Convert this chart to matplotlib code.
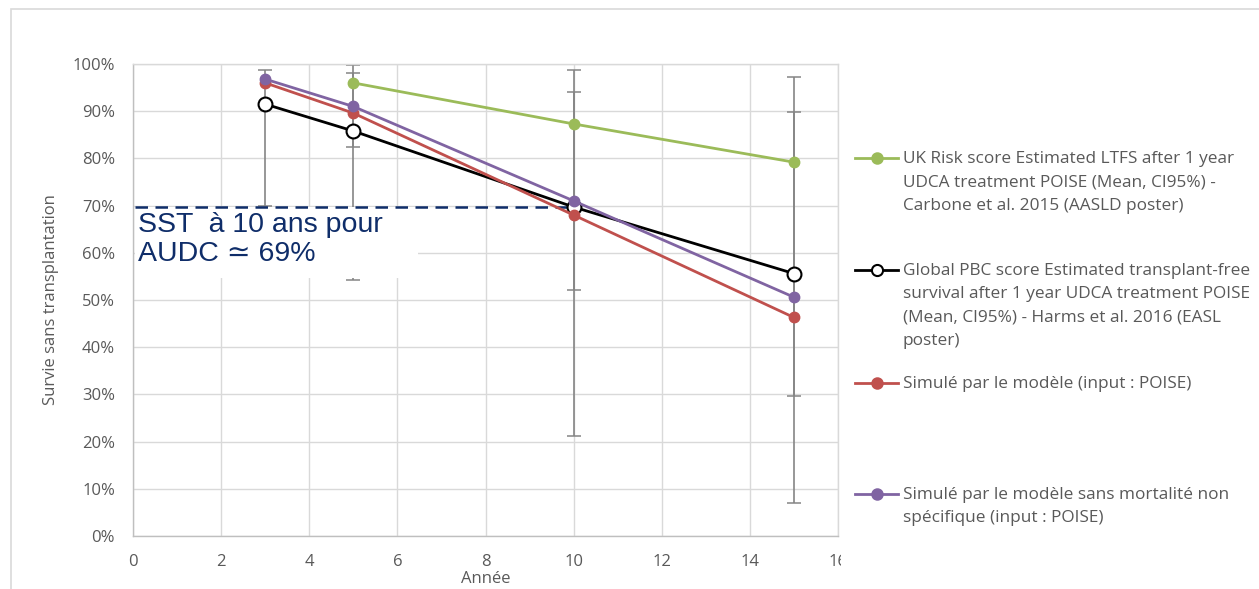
import matplotlib
matplotlib.use("Agg")
import matplotlib.pyplot as plt
from matplotlib.lines import Line2D
from matplotlib.patches import Rectangle
from matplotlib.ticker import FuncFormatter

# data (survival in %)
uk_years = [5, 10, 15]
uk_mean = [96.0, 87.3, 79.2]
uk_low = [82.4, 52.1, 29.7]
uk_high = [98.1, 94.1, 89.8]

pbc_years = [3, 5, 10, 15]
pbc_mean = [91.5, 85.8, 69.7, 55.6]
pbc_low = [70.0, 54.2, 21.2, 7.0]
pbc_high = [98.7, 99.8, 98.7, 97.2]

sim_years = [3, 5, 10, 15]
sim_mean = [96.0, 89.6, 68.0, 46.3]
sim_nomort = [96.8, 91.0, 71.0, 50.6]

sst_year = 10
sst_value = 69.7

labels = [
    "UK Risk score Estimated LTFS after 1 year\nUDCA treatment POISE (Mean, CI95%) -\nCarbone et al. 2015 (AASLD poster)",
    "Global PBC score Estimated transplant-free\nsurvival after 1 year UDCA treatment POISE\n(Mean, CI95%) - Harms et al. 2016 (EASL\nposter)",
    "Simulé par le modèle (input : POISE)",
    "Simulé par le modèle sans mortalité non\nspécifique (input : POISE)",
]

green = "#9BBB59"
red = "#C0504D"
purple = "#8064A2"
navy = "#0F2D69"
grey_txt = "#595959"
grid_c = "#D9D9D9"
err_c = "#858585"

plt.rcParams["font.family"] = ["Open Sans", "DejaVu Sans"]

W, H = 1259, 589
fig = plt.figure(figsize=(W / 100, H / 100), dpi=100)
ax = fig.add_axes([133 / W, 1 - 536 / H, 705 / W, 472 / H])

# error bars
ax.errorbar(uk_years, uk_mean,
            yerr=[[m - l for m, l in zip(uk_mean, uk_low)],
                  [h - m for m, h in zip(uk_mean, uk_high)]],
            fmt="none", ecolor=err_c, elinewidth=1.2, capsize=5, capthick=1.1, zorder=2)
ax.errorbar(pbc_years, pbc_mean,
            yerr=[[m - l for m, l in zip(pbc_mean, pbc_low)],
                  [h - m for m, h in zip(pbc_mean, pbc_high)]],
            fmt="none", ecolor=err_c, elinewidth=1.2, capsize=5, capthick=1.1, zorder=2)

# annotation box (white background covering the grid)
ax.add_patch(Rectangle((0.05, 54.6), 6.42, 15.0, facecolor="white", edgecolor="none", zorder=3))
ax.plot([0.05, sst_year], [sst_value, sst_value], color=navy, lw=1.8,
        dashes=(5, 3), zorder=4)
ax.text(0.12, 68.6, "SST  à 10 ans pour\nAUDC \u2243 69%", color=navy, fontsize=20.5,
        family=["Liberation Sans", "DejaVu Sans"], va="top", ha="left",
        linespacing=1.15, zorder=5)

# series
ax.plot(uk_years, uk_mean, color=green, lw=2, marker="o", ms=7.5, zorder=6)
ax.plot(pbc_years, pbc_mean, color="black", lw=2, marker="o", ms=10,
        mfc="white", mec="black", mew=1.5, zorder=7)
ax.plot(sim_years, sim_mean, color=red, lw=2, marker="o", ms=7.5, zorder=8)
ax.plot(sim_years, sim_nomort, color=purple, lw=2, marker="o", ms=7.5, zorder=9)

ax.set_xlim(0, 16)
ax.set_ylim(0, 100)
ax.set_xticks(range(0, 17, 2))
ax.set_yticks(range(0, 101, 10))
ax.yaxis.set_major_formatter(FuncFormatter(lambda v, p: "%d%%" % v))
ax.grid(True, color=grid_c, lw=1)
ax.set_axisbelow(True)
for s in ax.spines.values():
    s.set_color(grid_c)
    s.set_linewidth(1)
ax.spines["left"].set_color("#BFBFBF")
ax.spines["bottom"].set_color("#BFBFBF")
ax.tick_params(length=0, labelsize=12, colors=grey_txt)
ax.tick_params(axis="y", pad=13)
ax.tick_params(axis="x", pad=13)

ax.set_xlabel("Année", fontsize=12, color=grey_txt)
ax.set_ylabel("Survie sans transplantation", fontsize=12, color=grey_txt)
ax.xaxis.set_label_coords(0.5, -0.075)
ax.yaxis.set_label_coords(-0.105, 0.5)

# the legend box hides part of the last x tick label
fig.add_artist(Rectangle((841 / W, 1 - 578 / H), 60 / W, 40 / H, transform=fig.transFigure,
                         facecolor="white", edgecolor="none", zorder=10))

# legend drawn by hand (Excel-like layout)
colors = [green, "black", red, purple]
faces = [green, "white", red, purple]
entry_y = [158, 270, 383, 494]
for c, fc, lab, yy in zip(colors, faces, labels, entry_y):
    yf = 1 - yy / H
    fig.add_artist(Line2D([855 / W, 898 / W], [yf, yf], lw=2, color=c, zorder=11))
    fig.add_artist(Line2D([877 / W], [yf], lw=0, marker="o", ms=7.5 if fc != "white" else 8,
                          mfc=fc, mec=c, mew=1.5, zorder=12))
    fig.text(903 / W, 1 - (yy - 7) / H, lab, fontsize=12.4, color=grey_txt,
             va="top", ha="left", linespacing=1.62, zorder=12)

# outer frame of the pasted chart
fig.add_artist(Rectangle((11 / W, -0.05), 1.1, 1 - 9 / H + 0.05, transform=fig.transFigure,
                         facecolor="none", edgecolor=grid_c, lw=1.2, zorder=13))

fig.savefig("out.png", dpi=100)
